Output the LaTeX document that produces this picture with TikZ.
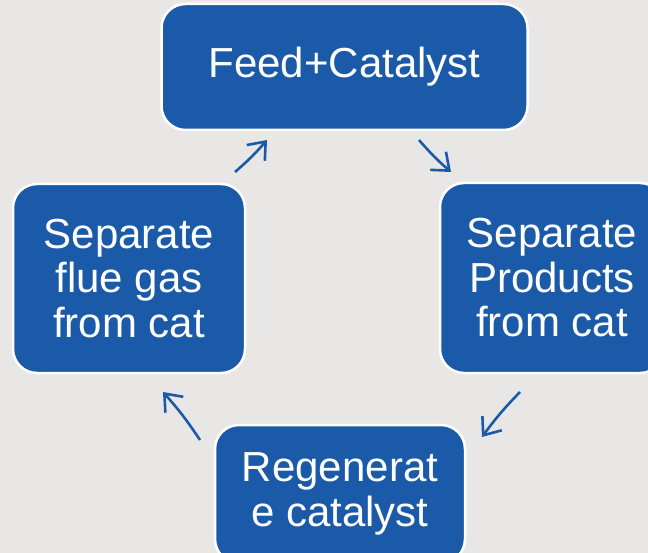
\documentclass[tikz,border=0pt]{standalone}
\usepackage{fontspec}
\setmainfont{Liberation Sans}
\usetikzlibrary{arrows.meta}
\definecolor{boxblue}{HTML}{1B5AA8}
\definecolor{bggray}{HTML}{E8E7E5}
\tikzset{
  stage/.style = {draw = white, line width = 2.5pt, fill = boxblue, rounded corners = 24pt,
                  text = white, align = center, inner sep = 0pt,
                  font = \fontsize{42}{44.5}\selectfont},
  cyc/.style   = {draw = boxblue, line width = 2.6pt, -{Straight Barb[length=15pt,width=24pt]}}
}
\begin{document}
\begin{tikzpicture}[x = 1pt, y = -1pt]
          \fill[bggray] (0,0) rectangle (648,553);
          \useasboundingbox (0,0) rectangle (648,553);

          \node[stage, minimum width = 366, minimum height = 126] at (344.5, 67)  (feed)  {Feed+Catalyst};
          \node[stage, minimum width = 224, minimum height = 190] at (552,  278)  (prod)  {Separate\\Products\\from cat};
          \node[stage, minimum width = 250, minimum height = 138] at (340,  494)  (regen) {Regenerat\\e catalyst};
          \node[stage, minimum width = 232, minimum height = 189] at (129,  278.5) (flue) {Separate\\flue gas\\from cat};

          \coordinate (a1) at (235,172); \coordinate (b1) at (267,140);
          \coordinate (a2) at (419,140); \coordinate (b2) at (451,172);
          \coordinate (a3) at (520,392); \coordinate (b3) at (482,437);
          \coordinate (a4) at (200,440); \coordinate (b4) at (163,392);

          \draw[cyc] (a1) to [bend right = 4] (b1);
          \draw[cyc] (a2) to [bend right = 4] (b2);
          \draw[cyc] (a3) to [bend right = 4] (b3);
          \draw[cyc] (a4) to [bend right = 4] (b4);
        \end{tikzpicture}
\end{document}
